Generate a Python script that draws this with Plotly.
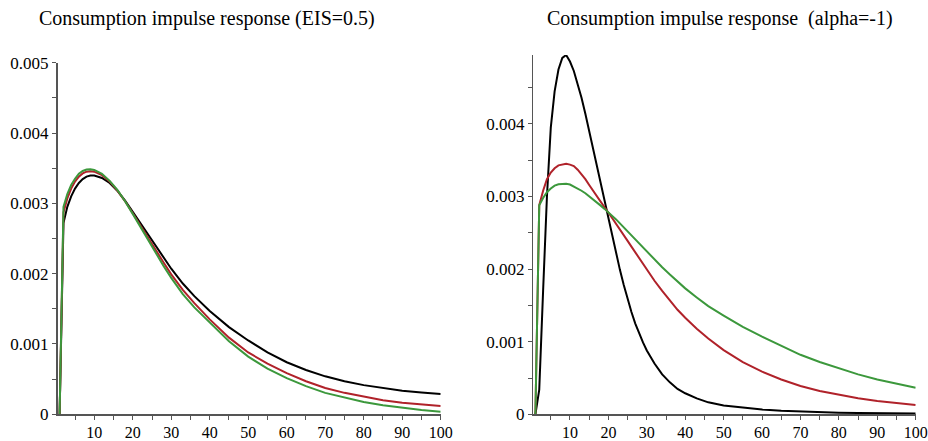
import plotly.graph_objects as go

# ---------------- data (values in units of 1e-3) ----------------
left_x = [1, 2, 3, 4, 5, 6, 7, 8, 9, 10, 12, 14, 16, 18, 20, 22, 24, 26, 28, 30,
          33, 36, 40, 45, 50, 55, 60, 65, 70, 75, 80, 85, 90, 95, 100]
left_black = [0, 2.72, 2.95, 3.10, 3.21, 3.29, 3.345, 3.38, 3.395, 3.395, 3.36, 3.29,
              3.18, 3.04, 2.88, 2.72, 2.55, 2.39, 2.23, 2.07, 1.86, 1.68, 1.47, 1.24,
              1.05, 0.88, 0.74, 0.63, 0.54, 0.47, 0.415, 0.37, 0.335, 0.31, 0.29]
left_red = [0, 2.87, 3.07, 3.21, 3.31, 3.38, 3.425, 3.45, 3.455, 3.45, 3.40, 3.31,
            3.18, 3.03, 2.86, 2.68, 2.50, 2.32, 2.16, 1.99, 1.77, 1.58, 1.35, 1.09,
            0.88, 0.72, 0.585, 0.47, 0.375, 0.305, 0.25, 0.20, 0.165, 0.14, 0.118]
left_green = [0, 2.95, 3.13, 3.26, 3.35, 3.42, 3.46, 3.48, 3.485, 3.475, 3.42, 3.32,
              3.19, 3.03, 2.85, 2.66, 2.47, 2.28, 2.11, 1.94, 1.71, 1.52, 1.30, 1.04,
              0.82, 0.65, 0.515, 0.40, 0.305, 0.235, 0.175, 0.13, 0.09, 0.06, 0.037]

right_x = [1, 2, 3, 4, 5, 6, 7, 8, 9, 10, 11, 12, 13, 14, 15, 16, 17, 18, 19, 20,
           21, 22, 23, 24, 25, 26, 27, 28, 29, 30, 32, 34, 36, 38, 40, 43, 46, 50,
           55, 60, 65, 70, 75, 80, 85, 90, 95, 100]
right_black = [0, 0.34, 1.7, 3.0, 3.95, 4.45, 4.75, 4.91, 4.95, 4.86, 4.73, 4.56, 4.36,
               4.14, 3.90, 3.66, 3.42, 3.17, 2.92, 2.67, 2.43, 2.21, 1.99, 1.78, 1.58,
               1.41, 1.25, 1.11, 0.99, 0.88, 0.70, 0.55, 0.44, 0.35, 0.29, 0.22, 0.165,
               0.12, 0.088, 0.065, 0.048, 0.036, 0.028, 0.022, 0.018, 0.015, 0.013, 0.012]
right_red = [0, 2.88, 3.08, 3.24, 3.33, 3.39, 3.43, 3.445, 3.45, 3.44, 3.42, 3.37, 3.31,
             3.24, 3.16, 3.08, 3.00, 2.92, 2.85, 2.78, 2.705, 2.63, 2.55, 2.47, 2.39,
             2.31, 2.23, 2.15, 2.07, 1.99, 1.84, 1.70, 1.57, 1.44, 1.33, 1.18, 1.045,
             0.885, 0.72, 0.587, 0.48, 0.39, 0.32, 0.266, 0.22, 0.183, 0.153, 0.128]
right_green = [0, 2.88, 2.98, 3.06, 3.11, 3.15, 3.17, 3.175, 3.175, 3.165, 3.14, 3.11,
               3.08, 3.045, 3.005, 2.96, 2.92, 2.875, 2.83, 2.785, 2.735, 2.685, 2.63,
               2.575, 2.52, 2.465, 2.41, 2.355, 2.30, 2.24, 2.13, 2.025, 1.925, 1.825,
               1.735, 1.61, 1.49, 1.36, 1.205, 1.07, 0.94, 0.82, 0.72, 0.63, 0.55, 0.48,
               0.42, 0.367]

x_ticks = [10, 20, 30, 40, 50, 60, 70, 80, 90, 100]
left_y_ticks = [0, 0.001, 0.002, 0.003, 0.004, 0.005]
left_y_labels = ["0", "0.001", "0.002", "0.003", "0.004", "0.005"]
right_y_ticks = [0, 0.001, 0.002, 0.003, 0.004]
right_y_labels = ["0", "0.001", "0.002", "0.003", "0.004"]

titles = ["Consumption impulse response (EIS=0.5)",
          "Consumption impulse response\u00a0\u00a0(alpha=-1)"]

scale = 1e-3
colors = {"black": "#000000", "red": "#B0222A", "green": "#3C983C"}

fig = go.Figure()


def add(xs, ys, color, xa, ya):
    fig.add_trace(go.Scatter(x=xs, y=[v * scale for v in ys], mode="lines",
                             line=dict(color=color, width=2),
                             xaxis=xa, yaxis=ya, showlegend=False,
                             hoverinfo="skip"))


add(left_x, left_black, colors["black"], "x", "y")
add(left_x, left_red, colors["red"], "x", "y")
add(left_x, left_green, colors["green"], "x", "y")
add(right_x, right_black, colors["black"], "x2", "y2")
add(right_x, right_red, colors["red"], "x2", "y2")
add(right_x, right_green, colors["green"], "x2", "y2")

W, H = 928, 441
font = "Liberation Serif"
axis_col = "#555555"


def px_x(p):
    return p / W


def px_y(p):
    return (H - p) / H


common_x = dict(range=[0.45, 100], tickvals=x_ticks, ticks="outside", ticklen=4,
                tickcolor=axis_col, showline=True, linecolor=axis_col, linewidth=1.5,
                showgrid=False, zeroline=False, automargin=False,
                ticklabelstandoff=-1,
                minor=dict(dtick=5, tick0=0, ticks="outside", ticklen=4,
                           tickcolor=axis_col, showgrid=False),
                tickfont=dict(family=font, size=16, color="#000"))
common_y = dict(ticks="outside", ticklen=4, tickcolor=axis_col, showline=True,
                linecolor=axis_col, linewidth=1.5, showgrid=False, zeroline=False,
                automargin=False,
                minor=dict(dtick=0.0005, tick0=0, ticks="outside", ticklen=4,
                           tickcolor=axis_col, showgrid=False),
                tickfont=dict(family=font, size=17, color="#000"))

fig.update_layout(
    width=W, height=H,
    margin=dict(l=0, r=0, t=0, b=0, autoexpand=False),
    paper_bgcolor="white", plot_bgcolor="white",
    font=dict(family=font),
    hovermode=False,
    xaxis=dict(domain=[px_x(57.5), px_x(440.7)], anchor="y", **common_x),
    yaxis=dict(domain=[px_y(414.3), px_y(62.7)], range=[0, 0.005], anchor="x",
               tickvals=left_y_ticks, ticktext=left_y_labels, **common_y),
    xaxis2=dict(domain=[px_x(533.3), px_x(915.7)], anchor="y2", **common_x),
    yaxis2=dict(domain=[px_y(414.3), px_y(55)], range=[0, 0.00495], anchor="x2",
                tickvals=right_y_ticks, ticktext=right_y_labels, **common_y),
    annotations=[
        dict(text=titles[0], x=px_x(207), y=px_y(18), xref="paper", yref="paper",
             xanchor="center", yanchor="middle", showarrow=False,
             font=dict(family=font, size=20, color="#000")),
        dict(text=titles[1], x=px_x(720), y=px_y(18), xref="paper", yref="paper",
             xanchor="center", yanchor="middle", showarrow=False,
             font=dict(family=font, size=20, color="#000")),
    ],
)

fig.write_html(
    "out.html",
    config={"displayModeBar": False, "staticPlot": True},
    post_script="document.body.style.margin='0';"
                "document.documentElement.style.overflow='hidden';"
                "document.body.style.overflow='hidden';",
)
